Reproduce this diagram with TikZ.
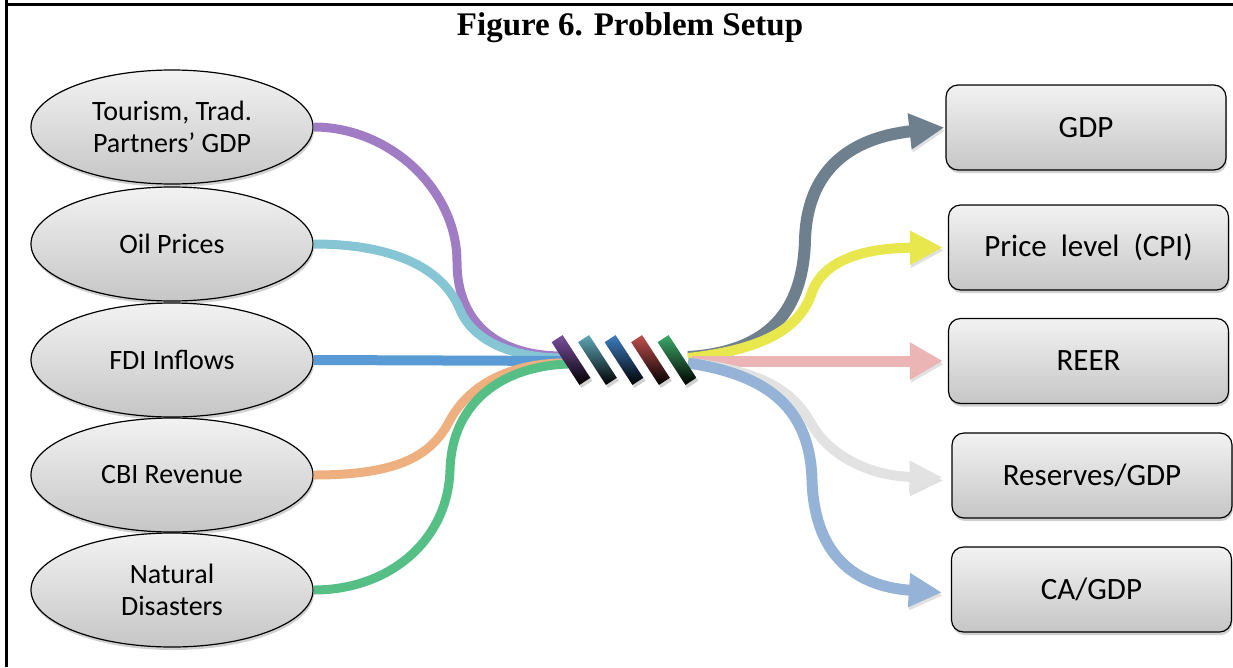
\documentclass[tikz,border=0pt]{standalone}
\usepackage{fontspec}
\setmainfont{Carlito}
\newfontfamily\titlefont{Liberation Serif}
\usetikzlibrary{shapes.geometric,shadows,arrows.meta}
\definecolor{cPurple}{HTML}{A07CC5}
\definecolor{cTeal}{HTML}{86C5D4}
\definecolor{cBlue}{HTML}{5B9BD5}
\definecolor{cOrange}{HTML}{EDB07E}
\definecolor{cGreen}{HTML}{55BF85}
\definecolor{cGray}{HTML}{6E7F8E}
\definecolor{cYellow}{HTML}{E8E84E}
\definecolor{cPink}{HTML}{EBB5B5}
\definecolor{cWhite}{HTML}{E2E2E2}
\definecolor{cLBlue}{HTML}{95B3D7}
\definecolor{fillTop}{HTML}{F2F2F2}
\definecolor{fillBot}{HTML}{C6C6C6}
\definecolor{kPurple}{HTML}{7B4F9E}
\definecolor{kTeal}{HTML}{5FA8B8}
\definecolor{kBlue}{HTML}{3E7DC0}
\definecolor{kRed}{HTML}{C0504D}
\definecolor{kGreen}{HTML}{3DAA6A}
\begin{document}
\begin{tikzpicture}[x=1pt,y=-1pt,
  inshape/.style={ellipse, draw=black, line width=1.2pt, top color=fillTop, bottom color=fillBot,
    minimum width=282pt, minimum height=114pt, inner sep=0pt, align=center,
    font=\fontsize{28}{32}\selectfont,
    drop shadow={shadow xshift=1pt, shadow yshift=-3pt, opacity=0.3, fill=black!60}},
  outbox/.style={rectangle, rounded corners=12pt, draw=black, line width=1.2pt, top color=fillTop, bottom color=fillBot,
    minimum width=280pt, minimum height=85pt, inner sep=0pt,
    font=\fontsize{31}{36}\selectfont,
    drop shadow={shadow xshift=1pt, shadow yshift=-3pt, opacity=0.3, fill=black!60}},
  strand/.style={line cap=butt,
    preaction={draw=black, draw opacity=0.12, transform canvas={shift={(1pt,-3pt)}}}},
  knotbar/.style={rectangle, minimum width=13pt, minimum height=51pt, inner sep=0pt, rotate=33,
    shading angle=33, bottom color=black,
    drop shadow={shadow xshift=2pt, shadow yshift=-3pt, opacity=0.3, fill=black!60}},
]
\useasboundingbox (0,0) rectangle (1233,667);
% frame
\draw[line width=3pt] (6.5,0) coordinate (fl1) -- (6.5,667) coordinate (fl2);
\draw[line width=3pt] (5,4) coordinate (ft1) -- (1233,4) coordinate (ft2);
\node[font=\titlefont\bfseries\fontsize{33}{38}\selectfont, anchor=base] (title) at (630,35) {Figure 6. Problem Setup};

% inputs
\node[inshape] (tour) at (172,127) {Tourism, Trad.\\Partners’ GDP};
\node[inshape] (oil) at (172,244) {Oil Prices};
\node[inshape] (fdi) at (172,360) {FDI Inflows};
\node[inshape] (cbi) at (172,475) {CBI Revenue};
\node[inshape] (nat) at (172,590) {Natural\\Disasters};

% outputs
\node[outbox] (gdp) at (1086,127.5) {GDP};
\node[outbox] (cpi) at (1088.5,247.5) {Price\hspace{7pt} level\hspace{7pt} (CPI)};
\node[outbox] (reer) at (1088.5,361) {REER};
\node[outbox] (res) at (1092,475.5) {Reserves/GDP};
\node[outbox] (ca) at (1091.5,589.5) {CA/GDP};

% knot entry/exit points
\coordinate (kp) at (562,356);
\coordinate (kt) at (562,358);
\coordinate (kb) at (575,361);
\coordinate (ko) at (562,363);
\coordinate (kg) at (568,364);
\coordinate (ko1) at (688,357);
\coordinate (ko2) at (688,358);
\coordinate (ko3) at (692,361);
\coordinate (ko4) at (690,363);
\coordinate (ko5) at (688,363);

% left strands
\draw[strand, cPurple, line width=9pt] (tour.east) .. controls (390,127) and (457,190) .. (457,262) .. controls (457,325) and (500,356) .. (kp);
\draw[strand, cTeal, line width=9pt] (oil.east) .. controls (400,244) and (445,272) .. (460,310) .. controls (475,345) and (520,358) .. (kt);
\draw[strand, cBlue, line width=10pt] (fdi.east) -- (kb);
\draw[strand, cOrange, line width=9pt] (cbi.east) .. controls (400,475) and (432,455) .. (450,420) .. controls (470,384) and (510,364) .. (ko);
\draw[strand, cGreen, line width=9pt] (nat.east) .. controls (390,590) and (448,540) .. (450,470) .. controls (452,400) and (505,366) .. (kg);

% right strands
\draw[strand, cGray, line width=12pt, -{Triangle[length=35pt,width=34pt]}] (ko1) .. controls (770,352) and (803,310) .. (805,240) .. controls (807,170) and (850,138) .. ([xshift=-1pt]gdp.west);
\draw[strand, cYellow, line width=10pt, -{Triangle[length=33pt,width=32pt]}] (ko2) .. controls (760,350) and (800,330) .. (812,292) .. controls (823,262) and (860,248) .. ([xshift=-5pt]cpi.west);
\draw[strand, cPink, line width=11pt, -{Triangle[length=33pt,width=35pt]}] (ko3) -- ([xshift=-5pt]reer.west);
\draw[strand, cWhite, line width=10pt, -{Triangle[length=33pt,width=30pt]}] (ko4) .. controls (770,372) and (795,395) .. (812,425) .. controls (830,456) and (870,476) .. ([xshift=-9pt,yshift=-2pt]res.west);
\draw[strand, cLBlue, line width=11pt, -{Triangle[length=33pt,width=32pt]}] (ko5) .. controls (770,375) and (810,410) .. (812,480) .. controls (814,550) and (850,586) .. ([xshift=-9pt,yshift=-3pt]ca.west);

% knot bars
\node[knotbar, top color=kPurple] (b1) at (571,360) {};
\node[knotbar, top color=kTeal] (b2) at (597.5,360) {};
\node[knotbar, top color=kBlue] (b3) at (624,360) {};
\node[knotbar, top color=kRed] (b4) at (650.5,360) {};
\node[knotbar, top color=kGreen] (b5) at (677,360) {};
\end{tikzpicture}
\end{document}
